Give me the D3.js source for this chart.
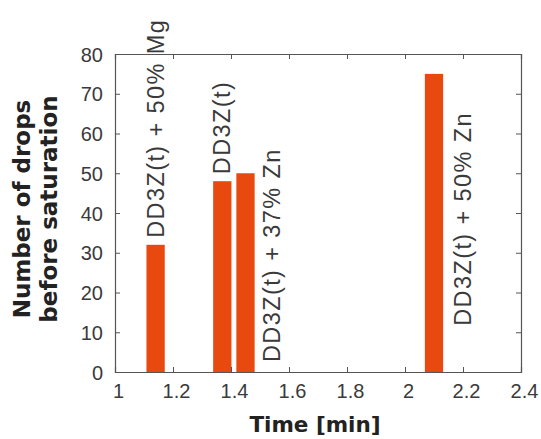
<!DOCTYPE html>
<html>
<head>
<meta charset="utf-8">
<script src="https://cdn.jsdelivr.net/npm/d3@7"></script>
<style>
  html, body { margin: 0; padding: 0; background: #fff; }
  svg { display: block; }
</style>
</head>
<body>
<div id="chart"></div>
<script>
// ---- data ----
const times = [1.14, 1.37, 1.45, 2.10];               // Time [min]
const drops = [32, 48, 50, 75];                        // Number of drops before saturation
const labels = ["DD3Z(t) + 50% Mg", "DD3Z(t)", "DD3Z(t) + 37% Zn", "DD3Z(t) + 50% Zn"];
const labelPlacement = ["above", "above", "right-base", "right-mid"];
const xTicks = [1, 1.2, 1.4, 1.6, 1.8, 2, 2.2, 2.4];
const yTicks = [0, 10, 20, 30, 40, 50, 60, 70, 80];
const xDomain = [1, 2.4];
const yDomain = [0, 80];
const barWidthData = 0.063;

const W = 541, H = 439;
const m = { left: 115, right: 20, top: 54, bottom: 67 };
const barColor = "#e8490f";
const axisColor = "#555";
const textColor = "#3a3a3a";

const svg = d3.select("#chart").append("svg").attr("width", W).attr("height", H);

const x = d3.scaleLinear().domain(xDomain).range([m.left, W - m.right]);
const y = d3.scaleLinear().domain(yDomain).range([H - m.bottom, m.top]);

const data = times.map((t, i) => ({ t, v: drops[i], label: labels[i], place: labelPlacement[i] }));

// bars
const bw = x(xDomain[0] + barWidthData) - x(xDomain[0]);
svg.append("g").selectAll("rect").data(data).join("rect")
  .attr("x", d => x(d.t) - bw / 2)
  .attr("y", d => y(d.v))
  .attr("width", bw)
  .attr("height", d => y(0) - y(d.v))
  .attr("fill", barColor);

// axes (ticks inward, box)
const tickFont = "Liberation Sans, Arial, sans-serif";
const gB = svg.append("g").attr("transform", `translate(0,${y(0)})`)
  .call(d3.axisBottom(x).tickValues(xTicks).tickSize(-5).tickPadding(12).tickFormat(d3.format("~g")));
const gT = svg.append("g").attr("transform", `translate(0,${y(80)})`)
  .call(d3.axisTop(x).tickValues(xTicks).tickSize(-5).tickFormat(""));
const gL = svg.append("g").attr("transform", `translate(${x(1)},0)`)
  .call(d3.axisLeft(y).tickValues(yTicks).tickSize(-5).tickPadding(12));
const gR = svg.append("g").attr("transform", `translate(${x(2.4)},0)`)
  .call(d3.axisRight(y).tickValues(yTicks).tickSize(-5).tickFormat(""));

[gB, gT, gL, gR].forEach(g => {
  g.select(".domain").attr("stroke", axisColor).attr("stroke-width", 1.2);
  g.selectAll(".tick line").attr("stroke", axisColor);
  g.selectAll(".tick text")
    .attr("font-family", tickFont)
    .attr("font-size", 20)
    .attr("fill", textColor);
});
gB.selectAll(".tick text").attr("dx", 3);
gL.selectAll(".tick text").attr("dy", "0.35em");

// bar labels (rotated)
svg.append("g").selectAll("text").data(data).join("text")
  .attr("transform", d => {
    let bx, by;
    if (d.place === "above") { bx = x(d.t) + 8; by = y(d.v) - 7; }
    else if (d.place === "right-base") { bx = x(d.t) + bw / 2 + 25; by = y(0) - 10; }
    else { bx = x(d.t) + bw / 2 + 28; by = y(d.v / 2) - 4; }
    return `translate(${bx},${by}) rotate(-90)`;
  })
  .attr("text-anchor", d => d.place === "right-mid" ? "middle" : "start")
  .attr("font-family", tickFont)
  .attr("font-size", 23.5)
  .attr("letter-spacing", "1.4px")
  .attr("fill", textColor)
  .text(d => d.label);

// axis titles
const titleFont = "DejaVu Sans, sans-serif";
svg.append("text")
  .attr("x", (x(1) + x(2.4)) / 2 - 3)
  .attr("y", 432)
  .attr("text-anchor", "middle")
  .attr("font-family", titleFont)
  .attr("font-weight", "bold")
  .attr("font-size", 21.5)
  .attr("fill", "#222")
  .text("Time [min]");

const yTitle = svg.append("text")
  .attr("transform", `translate(0,${(y(0) + y(80)) / 2 - 4}) rotate(-90)`)
  .attr("text-anchor", "middle")
  .attr("font-family", titleFont)
  .attr("font-weight", "bold")
  .attr("font-size", 23)
  .attr("fill", "#222");
yTitle.append("tspan").attr("x", 0).attr("y", 30).text("Number of drops");
yTitle.append("tspan").attr("x", 0).attr("y", 57).text("before saturation");
</script>
</body>
</html>
